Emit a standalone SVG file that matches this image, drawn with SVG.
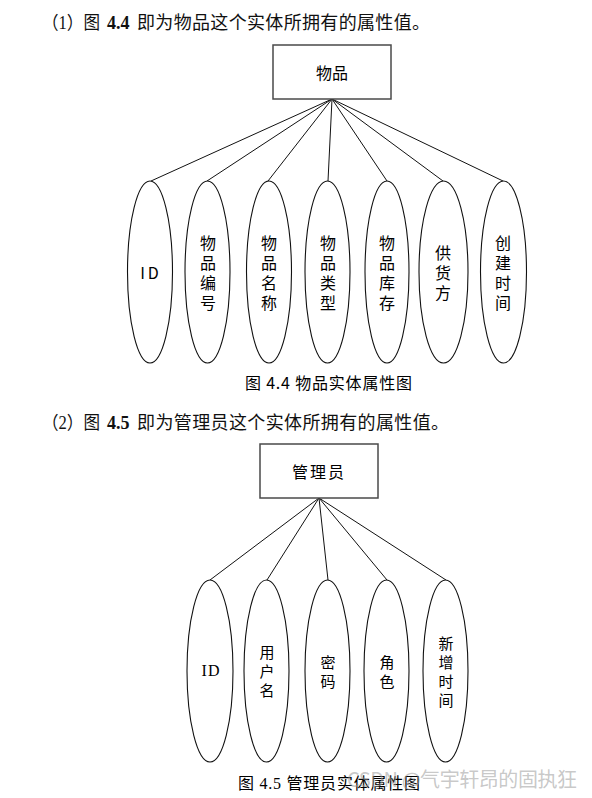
<svg xmlns="http://www.w3.org/2000/svg" width="592" height="798" viewBox="0 0 592 798">
<style>
.bg{fill:#fff}
.head{font-family:"Liberation Serif","Noto Sans CJK SC",serif;font-size:18px;fill:#111}
.b{font-weight:bold}
.box{fill:#fff;stroke:#4a4a4a;stroke-width:1.5}
.ell{fill:#fff;stroke:#111;stroke-width:1.1}
.ln{stroke:#111;stroke-width:1;fill:none}
.lbl{font-family:"Noto Sans CJK SC","Liberation Sans",sans-serif;font-size:16px;fill:#000;text-anchor:middle;dominant-baseline:central}
.v2{font-family:"Noto Sans CJK SC","Liberation Sans",sans-serif;font-size:15px;fill:#000;text-anchor:middle;dominant-baseline:central}
.lbl2{font-family:"Liberation Serif","Noto Sans CJK SC",serif;font-size:16px;fill:#000;text-anchor:middle;dominant-baseline:central}
.cap{font-family:"Noto Sans CJK SC","Liberation Sans",sans-serif;font-size:16px;fill:#000}
.cap2{font-family:"Liberation Serif","Noto Sans CJK SC",serif;font-size:16px;fill:#000}
.wm{font-family:"Noto Sans CJK SC","Liberation Sans",sans-serif;font-size:20px;fill:#9a9a9a;fill-opacity:0.55}
</style>
<rect class="bg" x="0" y="0" width="592" height="798"/>

<!-- Heading 1 -->
<text class="head" x="42" y="29" textLength="58" lengthAdjust="spacingAndGlyphs">（1）图</text>
<text class="head b" x="107" y="29">4.4</text>
<text class="head" x="137" y="29" textLength="293" lengthAdjust="spacing">即为物品这个实体所拥有的属性值。</text>

<!-- Diagram 1 connectors -->
<g id="connectors1">
<line class="ln" x1="332" y1="99" x2="151" y2="181"/>
<line class="ln" x1="332" y1="99" x2="207" y2="181"/>
<line class="ln" x1="332" y1="99" x2="268" y2="181"/>
<line class="ln" x1="332" y1="99" x2="328" y2="181"/>
<line class="ln" x1="332" y1="99" x2="387" y2="181"/>
<line class="ln" x1="332" y1="99" x2="443" y2="181"/>
<line class="ln" x1="332" y1="99" x2="503" y2="181"/>
</g>

<g id="entity-item">
<rect class="box" x="273" y="45" width="118" height="54"/>
<text class="lbl" x="332" y="72">物品</text>
</g>

<g id="attr-item-id">
<ellipse class="ell" cx="150" cy="272" rx="22.5" ry="91"/>
<text class="lbl" x="151" y="272" font-size="15" letter-spacing="3">ID</text>
</g>
<g id="attr-item-no">
<ellipse class="ell" cx="207.5" cy="272" rx="22.5" ry="91"/>
<text class="lbl" x="208" y="242">物</text><text class="lbl" x="208" y="262">品</text><text class="lbl" x="208" y="282">编</text><text class="lbl" x="208" y="302">号</text>
</g>
<g id="attr-item-name">
<ellipse class="ell" cx="269" cy="272" rx="22.5" ry="91"/>
<text class="lbl" x="269" y="242">物</text><text class="lbl" x="269" y="262">品</text><text class="lbl" x="269" y="282">名</text><text class="lbl" x="269" y="302">称</text>
</g>
<g id="attr-item-type">
<ellipse class="ell" cx="327.5" cy="272" rx="22.5" ry="91"/>
<text class="lbl" x="328" y="242">物</text><text class="lbl" x="328" y="262">品</text><text class="lbl" x="328" y="282">类</text><text class="lbl" x="328" y="302">型</text>
</g>
<g id="attr-item-stock">
<ellipse class="ell" cx="387" cy="272" rx="22" ry="91"/>
<text class="lbl" x="387" y="242">物</text><text class="lbl" x="387" y="262">品</text><text class="lbl" x="387" y="282">库</text><text class="lbl" x="387" y="302">存</text>
</g>
<g id="attr-item-supplier">
<ellipse class="ell" cx="443.5" cy="272" rx="24.5" ry="91"/>
<text class="lbl" x="443" y="252">供</text><text class="lbl" x="443" y="272">货</text><text class="lbl" x="443" y="292">方</text>
</g>
<g id="attr-item-created">
<ellipse class="ell" cx="503.5" cy="272" rx="23" ry="91"/>
<text class="lbl" x="503" y="242">创</text><text class="lbl" x="503" y="262">建</text><text class="lbl" x="503" y="282">时</text><text class="lbl" x="503" y="302">间</text>
</g>

<text class="cap" x="245" y="389" textLength="167" lengthAdjust="spacing">图 4.4  物品实体属性图</text>

<!-- Heading 2 -->
<text class="head" x="42" y="429" textLength="58" lengthAdjust="spacingAndGlyphs">（2）图</text>
<text class="head b" x="107" y="429">4.5</text>
<text class="head" x="137" y="429" textLength="312" lengthAdjust="spacing">即为管理员这个实体所拥有的属性值。</text>

<!-- Diagram 2 connectors -->
<g id="connectors2">
<line class="ln" x1="319" y1="498" x2="210" y2="580"/>
<line class="ln" x1="319" y1="498" x2="267" y2="580"/>
<line class="ln" x1="319" y1="498" x2="328" y2="580"/>
<line class="ln" x1="319" y1="498" x2="387" y2="580"/>
<line class="ln" x1="319" y1="498" x2="446" y2="580"/>
</g>

<g id="entity-admin">
<rect class="box" x="260" y="444" width="118" height="54"/>
<text class="lbl" x="319" y="471" letter-spacing="2">管理员</text>
</g>

<g id="attr-admin-id">
<ellipse class="ell" cx="210" cy="671" rx="23" ry="91"/>
<text class="lbl2" x="211" y="670" letter-spacing="1">ID</text>
</g>
<g id="attr-admin-username">
<ellipse class="ell" cx="266.5" cy="671" rx="22.5" ry="91"/>
<text class="v2" x="267" y="651">用</text><text class="v2" x="267" y="670">户</text><text class="v2" x="267" y="689">名</text>
</g>
<g id="attr-admin-password">
<ellipse class="ell" cx="327.5" cy="671" rx="22.5" ry="91"/>
<text class="v2" x="328" y="661">密</text><text class="v2" x="328" y="680">码</text>
</g>
<g id="attr-admin-role">
<ellipse class="ell" cx="386.5" cy="671" rx="22.5" ry="91"/>
<text class="v2" x="387" y="661">角</text><text class="v2" x="387" y="680">色</text>
</g>
<g id="attr-admin-created">
<ellipse class="ell" cx="445.5" cy="671" rx="22.5" ry="91"/>
<text class="v2" x="446" y="642">新</text><text class="v2" x="446" y="661">增</text><text class="v2" x="446" y="680">时</text><text class="v2" x="446" y="699">间</text>
</g>

<text class="cap2" x="238" y="789" textLength="182" lengthAdjust="spacing">图 4.5  管理员实体属性图</text>
<text class="wm" x="347" y="787" textLength="230" lengthAdjust="spacing">CSDN @气宇轩昂的固执狂</text>
</svg>
